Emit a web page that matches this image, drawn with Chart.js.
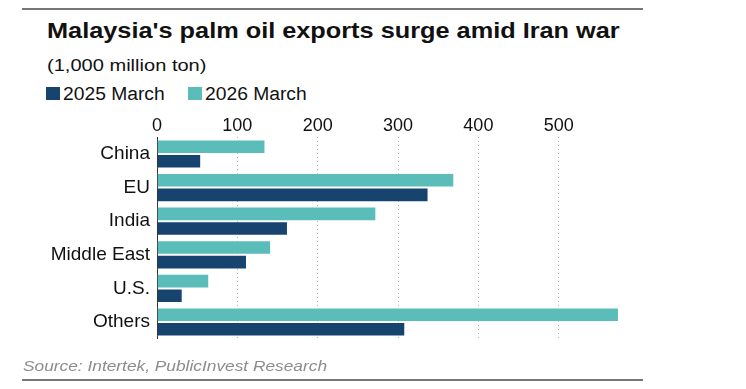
<!DOCTYPE html>
<html>
<head>
<meta charset="utf-8">
<script src="https://cdn.jsdelivr.net/npm/chart.js@4.4.1/dist/chart.umd.min.js"></script>
<style>
  html, body { margin: 0; padding: 0; background: #fff; }
  #wrap { position: relative; width: 746px; height: 389px; overflow: hidden; font-family: "Liberation Sans", Arial, sans-serif; }
  #chart { position: absolute; left: 0; top: 0; }
  .rule { position: absolute; left: 22px; width: 621px; height: 1.5px; background: #777; }
  .txt { position: absolute; white-space: nowrap; transform-origin: 0 0; }
  #title { left: 47px; top: 19.5px; font-size: 22px; line-height: 22px; font-weight: bold; color: #111; transform: scaleX(1.15); }
  #sub { left: 47px; top: 56.8px; font-size: 17px; line-height: 17px; color: #111; transform: scaleX(1.18); }
  #source { left: 23px; top: 358.3px; font-size: 15px; line-height: 15px; font-style: italic; color: #8c8c8c; transform: scaleX(1.154); }
  .key { position: absolute; top: 87px; width: 14px; height: 13px; }
  .keytxt { top: 84.5px; font-size: 18px; line-height: 18px; color: #111; transform: scaleX(1.07); }
</style>
</head>
<body>
<div id="wrap">
  <div class="rule" style="top:8px"></div>
  <div class="txt" id="title">Malaysia's palm oil exports surge amid Iran war</div>
  <div class="txt" id="sub">(1,000 million ton)</div>
  <div class="key" id="key0" style="left:46px"></div>
  <div class="txt keytxt" id="lab0" style="left:63px"></div>
  <div class="key" id="key1" style="left:188px"></div>
  <div class="txt keytxt" id="lab1" style="left:205px"></div>
  <canvas id="chart" width="746" height="389"></canvas>
  <div class="txt" id="source">Source: Intertek, PublicInvest Research</div>
  <div class="rule" style="top:379px"></div>
</div>
<script>
// values, in 1,000 million ton
const categories = ['China', 'EU', 'India', 'Middle East', 'U.S.', 'Others'];
const march2025 = [55, 338, 163, 112, 32, 309];
const march2026 = [135, 370, 273, 142, 65, 575];
const xTicks = [0, 100, 200, 300, 400, 500];

const navy = '#17446f';
const teal = '#5bbdb9';

// legend (2025 first, like the original)
document.getElementById('key0').style.background = navy;
document.getElementById('lab0').textContent = '2025 March';
document.getElementById('key1').style.background = teal;
document.getElementById('lab1').textContent = '2026 March';

const ctx = document.getElementById('chart').getContext('2d');
new Chart(ctx, {
  type: 'bar',
  data: {
    labels: categories,
    datasets: [
      {
        label: '2026 March',
        data: march2026,
        backgroundColor: teal,
        borderColor: 'rgba(255,255,255,0.45)',
        borderWidth: 1
      },
      {
        label: '2025 March',
        data: march2025,
        backgroundColor: navy,
        borderColor: 'rgba(255,255,255,0.45)',
        borderWidth: 1
      }
    ]
  },
  options: {
    indexAxis: 'y',
    responsive: false,
    animation: false,
    devicePixelRatio: 1,
    categoryPercentage: 0.87,
    barPercentage: 1.0,
    layout: { padding: { left: 22, right: 123, top: 112, bottom: 50.2 } },
    plugins: {
      legend: { display: false },
      title: { display: false },
      tooltip: { enabled: false }
    },
    scales: {
      x: {
        position: 'top',
        min: 0,
        max: 580,
        z: 1,
        afterBuildTicks: (scale) => {
          scale.ticks = xTicks.map(v => ({ value: v }));
        },
        afterFit: (scale) => { scale.height = 25.2; },
        grid: {
          drawTicks: false,
          lineWidth: 1,
          color: (c) => (c.tick && c.tick.value === 0) ? 'rgba(0,0,0,0)' : 'rgba(0,0,0,0.32)'
        },
        border: { display: false, dash: [1, 3] },
        ticks: {
          padding: 0,
          color: '#111',
          font: { family: 'Liberation Sans', size: 18 }
        }
      },
      y: {
        afterFit: (scale) => { scale.width = 135; },
        grid: { display: false, drawTicks: false },
        border: { display: true, color: '#333', width: 1 },
        ticks: {
          padding: 7,
          color: '#111',
          font: { family: 'Liberation Sans', size: 19 }
        }
      }
    }
  }
});
</script>
</body>
</html>
